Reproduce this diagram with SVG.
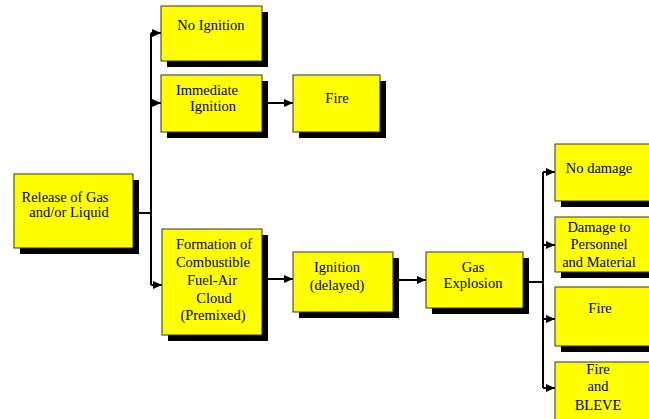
<svg xmlns="http://www.w3.org/2000/svg" width="649" height="419" viewBox="0 0 649 419" font-family="Liberation Serif, DejaVu Serif, serif">
<defs>
<marker id="ah" markerWidth="9" markerHeight="8" refX="9" refY="4" orient="auto" markerUnits="userSpaceOnUse">
<path d="M0,0 L9,4 L0,8 Z" fill="#000"/>
</marker>
<style>
.sh{fill:#000}
.bx{fill:#ffff00;stroke:#333;stroke-width:1}
.t{font-size:14.5px;fill:#000;text-anchor:middle}
.ln{fill:none;stroke:#000;stroke-width:2}
</style>
</defs>
<rect width="649" height="419" fill="#fff"/>
<g id="connectors">
<path class="ln" d="M133,213 H151"/>
<path class="ln" d="M151,33 V285"/>
<path class="ln" d="M151,33 H161" marker-end="url(#ah)"/>
<path class="ln" d="M151,103 H161" marker-end="url(#ah)"/>
<path class="ln" d="M151,285 H162" marker-end="url(#ah)"/>
<path class="ln" d="M268,103 H293" marker-end="url(#ah)"/>
<path class="ln" d="M268,279 H293" marker-end="url(#ah)"/>
<path class="ln" d="M399,280 H426" marker-end="url(#ah)"/>
<path class="ln" d="M529,282 H543"/>
<path class="ln" d="M543,172 V388"/>
<path class="ln" d="M543,172 H555" marker-end="url(#ah)"/>
<path class="ln" d="M543,245 H555" marker-end="url(#ah)"/>
<path class="ln" d="M543,319 H555" marker-end="url(#ah)"/>
<path class="ln" d="M543,388 H555" marker-end="url(#ah)"/>
</g>
<g id="release" class="t">
<rect class="sh" x="20" y="180" width="119" height="74"/>
<rect class="bx" x="14" y="174" width="119" height="74"/>
<text x="65" y="202" font-family="Liberation Serif">Release of Gas</text>
<text x="69" y="217" font-family="Liberation Serif">and/or Liquid</text>
</g>
<g id="no-ignition" class="t">
<rect class="sh" x="167" y="12" width="101" height="55"/>
<rect class="bx" x="161" y="6" width="101" height="55"/>
<text x="211" y="30" font-family="Liberation Serif">No Ignition</text>
</g>
<g id="immediate-ignition" class="t">
<rect class="sh" x="167" y="81" width="101" height="57"/>
<rect class="bx" x="161" y="75" width="101" height="57"/>
<text x="207" y="95" font-family="Liberation Serif">Immediate</text>
<text x="213" y="111" font-family="Liberation Serif">Ignition</text>
</g>
<g id="fire-top" class="t">
<rect class="sh" x="299" y="81" width="87" height="57"/>
<rect class="bx" x="293" y="75" width="87" height="57"/>
<text x="337" y="103" font-family="Liberation Serif">Fire</text>
</g>
<g id="formation" class="t">
<rect class="sh" x="168" y="235" width="100" height="106"/>
<rect class="bx" x="162" y="229" width="100" height="106"/>
<text x="214" y="249" font-family="Liberation Serif">Formation of</text>
<text x="213" y="267" font-family="Liberation Serif">Combustible</text>
<text x="212" y="285" font-family="Liberation Serif">Fuel-Air</text>
<text x="214" y="303" font-family="Liberation Serif">Cloud</text>
<text x="213" y="320" font-family="Liberation Serif">(Premixed)</text>
</g>
<g id="ignition-delayed" class="t">
<rect class="sh" x="299" y="258" width="100" height="60"/>
<rect class="bx" x="293" y="252" width="100" height="60"/>
<text x="337" y="272" font-family="Liberation Serif">Ignition</text>
<text x="337" y="290" font-family="Liberation Serif">(delayed)</text>
</g>
<g id="gas-explosion" class="t">
<rect class="sh" x="432" y="258" width="97" height="56"/>
<rect class="bx" x="426" y="252" width="97" height="56"/>
<text x="473" y="272" font-family="Liberation Serif">Gas</text>
<text x="473" y="288" font-family="Liberation Serif">Explosion</text>
</g>
<g id="no-damage" class="t">
<rect class="sh" x="561" y="150" width="110" height="57"/>
<rect class="bx" x="555" y="144" width="110" height="57"/>
<text x="599" y="173" font-family="Liberation Serif">No damage</text>
</g>
<g id="damage" class="t">
<rect class="sh" x="561" y="223" width="110" height="55"/>
<rect class="bx" x="555" y="217" width="110" height="55"/>
<text x="599" y="232" font-family="Liberation Serif">Damage to</text>
<text x="599" y="249" font-family="Liberation Serif">Personnel</text>
<text x="599" y="267" font-family="Liberation Serif">and Material</text>
</g>
<g id="fire-right" class="t">
<rect class="sh" x="561" y="293" width="110" height="59"/>
<rect class="bx" x="555" y="287" width="110" height="59"/>
<text x="600" y="313" font-family="Liberation Serif">Fire</text>
</g>
<g id="fire-bleve" class="t">
<rect class="sh" x="561" y="368" width="110" height="60"/>
<rect class="bx" x="555" y="362" width="110" height="60"/>
<text x="598" y="374" font-family="Liberation Serif">Fire</text>
<text x="598" y="391" font-family="Liberation Serif">and</text>
<text x="598" y="410" font-family="Liberation Serif">BLEVE</text>
</g>
</svg>
